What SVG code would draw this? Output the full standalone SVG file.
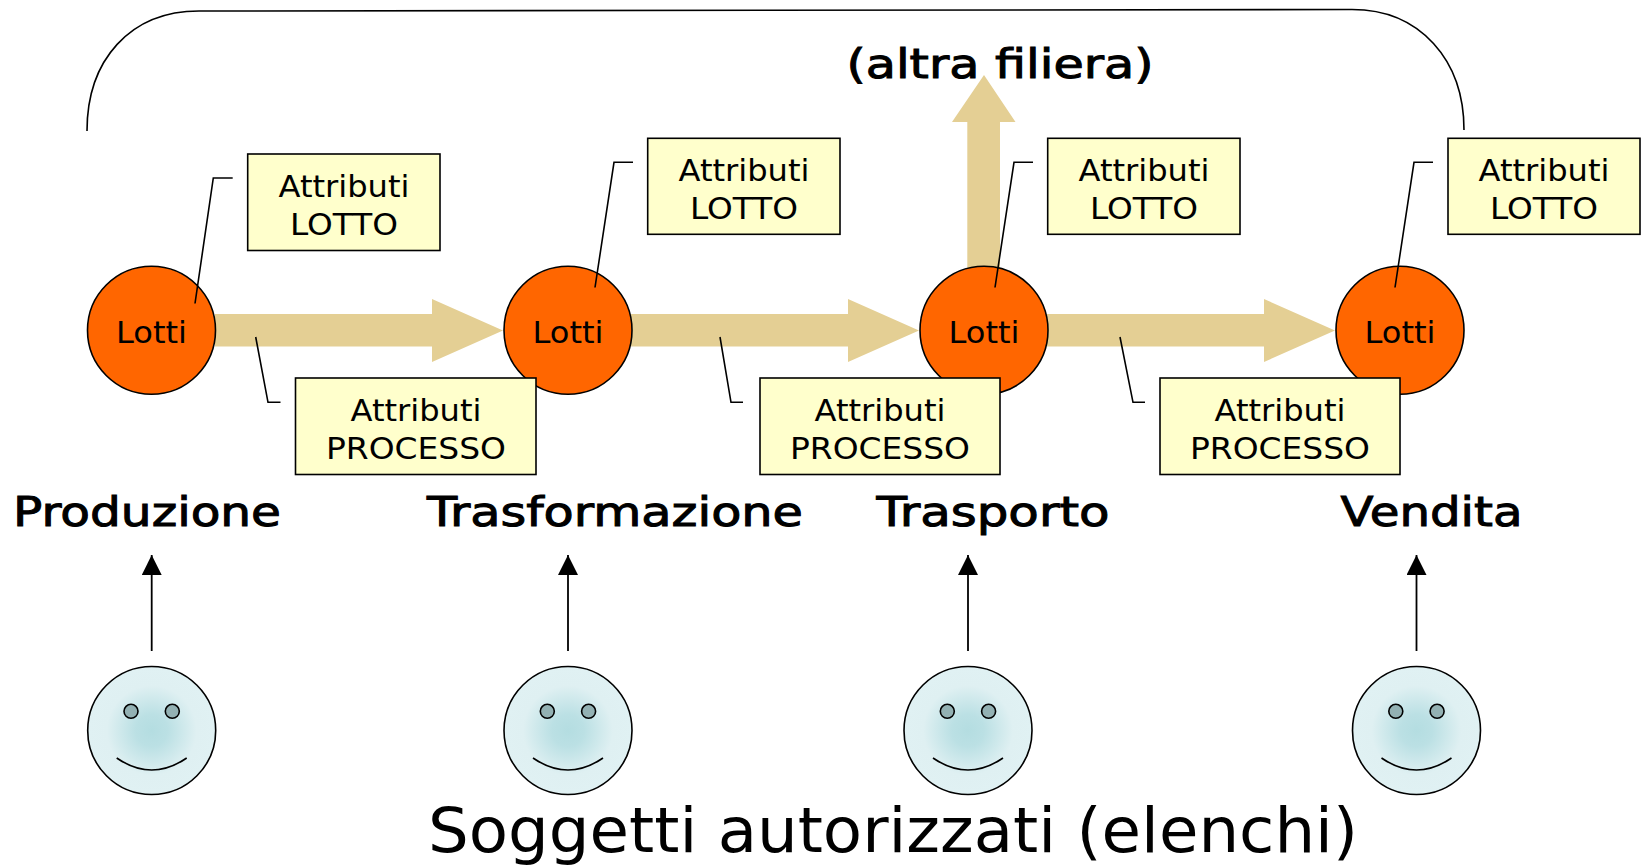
<svg xmlns="http://www.w3.org/2000/svg" width="1643" height="866" viewBox="0 0 1643 866">
<style>
text{font-family:"DejaVu Sans",Verdana,sans-serif;fill:#000;text-anchor:middle}
.lotti{fill:#ff6600;stroke:#000;stroke-width:1.6}
.flow{fill:#e4cf94}
.box{fill:#ffffcc;stroke:#000;stroke-width:1.6}
.t{font-size:31px}
.b{font-size:41px;stroke:#000;stroke-width:1}
.lead{fill:none;stroke:#000;stroke-width:1.6}
.face{fill:url(#g);stroke:#000;stroke-width:1.6}
.eye{fill:#93b1b3;stroke:#000;stroke-width:1.6}
</style>
<defs>
<radialGradient id="g"><stop offset="0" stop-color="#b4dde1"/><stop offset=".25" stop-color="#bbe0e4"/><stop offset=".7" stop-color="#dff0f2"/><stop offset="1" stop-color="#e0f1f3"/></radialGradient>
<marker id="ah" markerUnits="userSpaceOnUse" markerWidth="20" markerHeight="20" refX="20" refY="10" orient="auto"><path d="M0 0L20 10L0 20Z" fill="#000"/></marker>
</defs>
<g id="connectors">
<path class="lead" d="M87 131C87 60 130 11 199 11L1352 9.500C1420 9.500 1464 60 1464 130"/>
<path class="flow" d="M967.300 270V122H952L984 75L1015.500 122H1000V270Z"/>
<path class="flow" d="M215 314H432V299L503 330.500L432 362V346.500H215Z"/>
<path class="flow" d="M631 314H848V299L919 330.500L848 362V346.500H631Z"/>
<path class="flow" d="M1047 314H1264V299L1335 330.500L1264 362V346.500H1047Z"/>
<g style="stroke:#000;stroke-width:1.8">
<line x1="151.700" y1="651" x2="151.700" y2="555" marker-end="url(#ah)"/>
<line x1="568" y1="651" x2="568" y2="555" marker-end="url(#ah)"/>
<line x1="968" y1="651" x2="968" y2="555" marker-end="url(#ah)"/>
<line x1="1416.500" y1="651" x2="1416.500" y2="555" marker-end="url(#ah)"/>
</g>
</g>
<g id="lotti1"><circle class="lotti" cx="151.500" cy="330.300" r="64"/><text class="t" x="151.500" y="343" textLength="71" lengthAdjust="spacingAndGlyphs">Lotti</text></g>
<g id="lotti2"><circle class="lotti" cx="568" cy="330.300" r="64"/><text class="t" x="568" y="343" textLength="71" lengthAdjust="spacingAndGlyphs">Lotti</text></g>
<g id="lotti3"><circle class="lotti" cx="984" cy="330.300" r="64"/><text class="t" x="984" y="343" textLength="71" lengthAdjust="spacingAndGlyphs">Lotti</text></g>
<g id="lotti4"><circle class="lotti" cx="1400" cy="330.300" r="64"/><text class="t" x="1400" y="343" textLength="71" lengthAdjust="spacingAndGlyphs">Lotti</text></g>
<g id="leaders">
<path class="lead" d="M195 303.500L213.300 178H232.700"/>
<path class="lead" d="M595 287.500L614 162.300H633"/>
<path class="lead" d="M995 287.500L1014 162.300H1033"/>
<path class="lead" d="M1395 287.500L1414 162.300H1433"/>
<path class="lead" d="M255.700 337L268 402.300H280.500"/>
<path class="lead" d="M720 337L731 402.300H743"/>
<path class="lead" d="M1120 337L1133 402.300H1145"/>
</g>
<g id="attr-lotto1"><rect class="box" x="247.700" y="154" width="192.300" height="96.500"/><text class="t" x="344" y="197" textLength="131" lengthAdjust="spacingAndGlyphs">Attributi</text><text class="t" x="344" y="235" textLength="108" lengthAdjust="spacingAndGlyphs">LOTTO</text></g>
<g id="attr-lotto2"><rect class="box" x="647.700" y="138.300" width="192.300" height="96"/><text class="t" x="744" y="181" textLength="131" lengthAdjust="spacingAndGlyphs">Attributi</text><text class="t" x="744" y="219" textLength="108" lengthAdjust="spacingAndGlyphs">LOTTO</text></g>
<g id="attr-lotto3"><rect class="box" x="1047.700" y="138.300" width="192.300" height="96"/><text class="t" x="1144" y="181" textLength="131" lengthAdjust="spacingAndGlyphs">Attributi</text><text class="t" x="1144" y="219" textLength="108" lengthAdjust="spacingAndGlyphs">LOTTO</text></g>
<g id="attr-lotto4"><rect class="box" x="1448" y="138.300" width="192" height="96"/><text class="t" x="1544" y="181" textLength="131" lengthAdjust="spacingAndGlyphs">Attributi</text><text class="t" x="1544" y="219" textLength="108" lengthAdjust="spacingAndGlyphs">LOTTO</text></g>
<g id="attr-proc1"><rect class="box" x="295.500" y="378" width="240.500" height="96.500"/><text class="t" x="416" y="421" textLength="131" lengthAdjust="spacingAndGlyphs">Attributi</text><text class="t" x="416" y="459" textLength="180" lengthAdjust="spacingAndGlyphs">PROCESSO</text></g>
<g id="attr-proc2"><rect class="box" x="760" y="378" width="240" height="96.500"/><text class="t" x="880" y="421" textLength="131" lengthAdjust="spacingAndGlyphs">Attributi</text><text class="t" x="880" y="459" textLength="180" lengthAdjust="spacingAndGlyphs">PROCESSO</text></g>
<g id="attr-proc3"><rect class="box" x="1160" y="378" width="240" height="96.500"/><text class="t" x="1280" y="421" textLength="131" lengthAdjust="spacingAndGlyphs">Attributi</text><text class="t" x="1280" y="459" textLength="180" lengthAdjust="spacingAndGlyphs">PROCESSO</text></g>
<g id="labels">
<text class="b" x="147" y="526" textLength="268" lengthAdjust="spacingAndGlyphs">Produzione</text>
<text class="b" x="615" y="526" textLength="376" lengthAdjust="spacingAndGlyphs">Trasformazione</text>
<text class="b" x="993" y="526" textLength="233" lengthAdjust="spacingAndGlyphs">Trasporto</text>
<text class="b" x="1431.500" y="526" textLength="182" lengthAdjust="spacingAndGlyphs">Vendita</text>
<text class="b" x="1000" y="78" textLength="307" lengthAdjust="spacingAndGlyphs">(altra filiera)</text>
<text x="893" y="852" style="font-size:62px" textLength="930" lengthAdjust="spacingAndGlyphs">Soggetti autorizzati (elenchi)</text>
</g>
<g id="user1"><circle class="face" cx="151.700" cy="730.500" r="64"/><circle class="eye" cx="131" cy="711.300" r="7"/><circle class="eye" cx="172.300" cy="711.300" r="7"/><path class="lead" d="M116.700 758Q151.700 782 186.700 758"/></g>
<g id="user2"><circle class="face" cx="568" cy="730.500" r="64"/><circle class="eye" cx="547.300" cy="711.300" r="7"/><circle class="eye" cx="588.600" cy="711.300" r="7"/><path class="lead" d="M533 758Q568 782 603 758"/></g>
<g id="user3"><circle class="face" cx="968" cy="730.500" r="64"/><circle class="eye" cx="947.300" cy="711.300" r="7"/><circle class="eye" cx="988.600" cy="711.300" r="7"/><path class="lead" d="M933 758Q968 782 1003 758"/></g>
<g id="user4"><circle class="face" cx="1416.500" cy="730.500" r="64"/><circle class="eye" cx="1395.800" cy="711.300" r="7"/><circle class="eye" cx="1437.100" cy="711.300" r="7"/><path class="lead" d="M1381.500 758Q1416.500 782 1451.500 758"/></g>
</svg>
